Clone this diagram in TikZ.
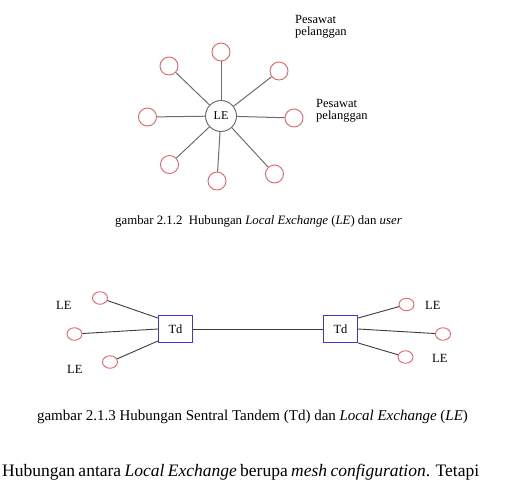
\documentclass[tikz,border=0pt]{standalone}
\usepackage{fontspec}
\setmainfont{Liberation Serif}
\usetikzlibrary{shapes.geometric}
\definecolor{subred}{HTML}{E8646A}
\definecolor{hubgray}{HTML}{707070}
\definecolor{spokegray}{HTML}{6E6E6E}
\definecolor{linkgray}{HTML}{3C3C3C}
\definecolor{tdblue}{HTML}{3A3AD0}
\begin{document}
\begin{tikzpicture}[x=1pt,y=-1pt,
  sub/.style={circle,draw=subred,line width=0.9pt,minimum size=18pt,inner sep=0pt},
  lesub/.style={ellipse,draw=subred,line width=0.9pt,minimum width=15pt,minimum height=12.5pt,inner sep=0pt},
  hub/.style={circle,draw=hubgray,line width=1pt,minimum size=31pt,inner sep=0pt,font=\fontsize{12}{13}\selectfont},
  tdbox/.style={draw=tdblue,line width=0.9pt,minimum width=34.5pt,minimum height=27pt,inner sep=0pt,font=\fontsize{12.5}{14}\selectfont},
  spoke/.style={draw=spokegray,line width=1pt},
  link/.style={draw=linkgray,line width=0.9pt},
  lbl/.style={anchor=base west,inner sep=0pt,font=\fontsize{12.5}{12}\selectfont},
  lelbl/.style={anchor=base west,inner sep=0pt,font=\fontsize{12.5}{14}\selectfont},
  captext/.style={anchor=base,inner sep=0pt},
]
\useasboundingbox[fill=white] (0,0) rectangle (515,488);
% ---- top: LE star ----
\node[hub] (LE) at (221,116) {LE};
\node[sub] (s1) at (221,52) {};
\node[sub] (s2) at (169,66) {};
\node[sub] (s3) at (279,71) {};
\node[sub] (s4) at (147.5,117) {};
\node[sub] (s5) at (294,118) {};
\node[sub] (s6) at (169.5,164.5) {};
\node[sub] (s7) at (217,181) {};
\node[sub] (s8) at (274.5,174) {};
\foreach \s in {s1,s2,s3,s4,s5,s6,s7,s8} \draw[spoke] (LE) -- (\s);
\node[lbl,align=left] (p1) at (295,35) {Pesawat\\pelanggan};
\node[lbl,align=left] (p2) at (316,119) {Pesawat\\pelanggan};
\node[captext,font=\fontsize{12.8}{14}\selectfont] (c1) at (258.5,224) {gambar 2.1.2\ \ Hubungan \textit{Local Exchange} (\textit{LE}) dan \textit{user}};
% ---- bottom: tandem ----
\node[tdbox] (tdL) at (175.5,329) {Td};
\node[tdbox] (tdR) at (340.5,329) {Td};
\draw[link] (tdL) -- (tdR);
\node[lesub] (l1) at (100,298) {};
\node[lesub] (l2) at (74.5,334) {};
\node[lesub] (l3) at (110,362) {};
\node[lesub] (r1) at (406.5,304.5) {};
\node[lesub] (r2) at (443,334) {};
\node[lesub] (r3) at (405.5,357) {};
\draw[link] (l1) -- ([yshift=11pt]tdL.west);
\draw[link] (l2) -- (tdL.west);
\draw[link] (l3) -- ([yshift=-12pt]tdL.west);
\draw[link] (r1) -- ([yshift=11pt]tdR.east);
\draw[link] (r2) -- (tdR.east);
\draw[link] (r3) -- ([yshift=-14pt]tdR.east);
\node[lelbl] (t1) at (56,309) {LE};
\node[lelbl] (t2) at (67,373.5) {LE};
\node[lelbl] (t3) at (425,309) {LE};
\node[lelbl] (t4) at (432,362.5) {LE};
\node[captext,font=\fontsize{15}{17}\selectfont] (c2) at (252.5,420.5) {gambar 2.1.3 Hubungan Sentral Tandem (Td) dan \textit{Local Exchange} (\textit{LE})};
% ---- body text ----
\node[anchor=base west,inner sep=0pt,font=\fontsize{17.5}{20}\selectfont] (body) at (2,476)
  {\makebox[477pt][s]{Hubungan antara \textit{Local Exchange} berupa \textit{mesh configuration}. Tetapi}};
\end{tikzpicture}
\end{document}
